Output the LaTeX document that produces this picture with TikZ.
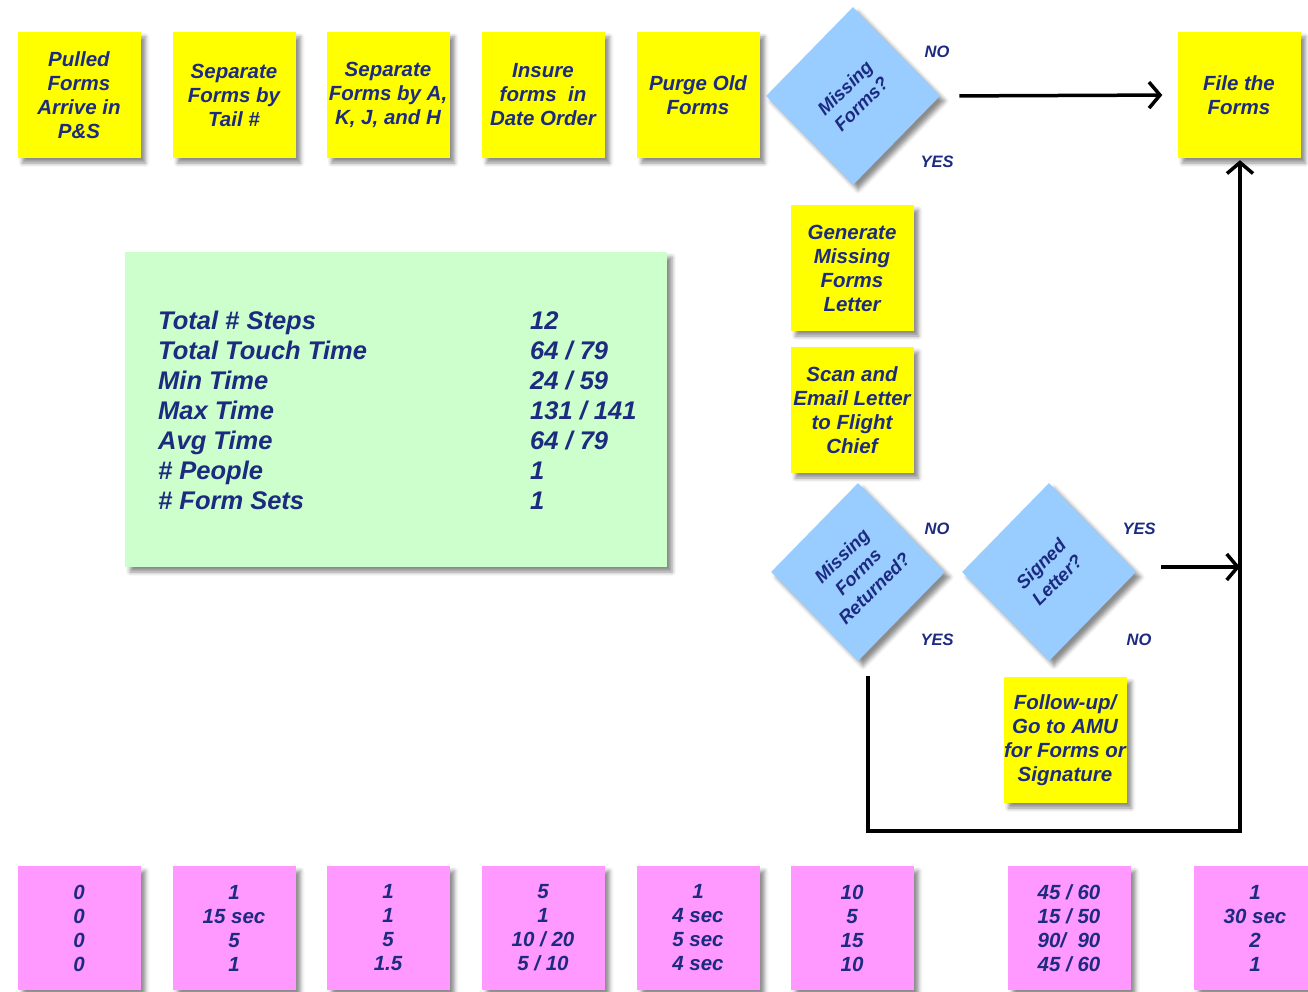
\documentclass[tikz,border=0pt]{standalone}
\usepackage{fontspec}
\setmainfont{Liberation Sans}
\usetikzlibrary{shapes.geometric,shadows.blur,arrows.meta}
\definecolor{navy}{RGB}{28,42,128}
\definecolor{yelbox}{RGB}{255,255,0}
\definecolor{diablue}{RGB}{153,204,255}
\definecolor{greenbox}{RGB}{204,255,204}
\definecolor{pinkbox}{RGB}{255,153,255}
\begin{document}
\begin{tikzpicture}[x=1pt,y=-1pt,
  shadowed/.style={blur shadow={shadow xshift=5pt, shadow yshift=-5pt, shadow blur radius=4pt, shadow opacity=45}},
  stepbox/.style={fill=yelbox, minimum width=123pt, minimum height=126pt, inner sep=0pt, align=center, text=navy,
     font=\fontsize{20.5}{24}\selectfont\bfseries\itshape, shadowed},
  timebox/.style={fill=pinkbox, minimum width=123pt, minimum height=124pt, inner sep=0pt, align=center, text=navy,
     font=\fontsize{20.5}{24}\selectfont\bfseries\itshape, shadowed},
  dia/.style={diamond, fill=diablue, minimum width=174pt, minimum height=178pt, inner sep=0pt, shadowed},
  diatext/.style={rotate=45, align=center, text=navy, inner sep=0pt, font=\fontsize{18.5}{23}\selectfont\bfseries\itshape},
  lbl/.style={text=navy, inner sep=0pt, font=\fontsize{16.5}{20}\selectfont\bfseries\itshape},
  flow/.style={line width=3.5pt, black, line cap=rect},
  arr/.style={flow, -{Straight Barb[length=11pt,width=26pt,line width=3.5pt]}}
]
\useasboundingbox (0,0) rectangle (1308,992);

% top row
\node[stepbox] (s1) at (79,95) {Pulled\\Forms\\Arrive in\\P\&S};
\node[stepbox] (s2) at (234,95) {Separate\\Forms by\\Tail \#};
\node[stepbox] (s3) at (388,95) {Separate\\Forms by A,\\K, J, and H};
\node[stepbox] (s4) at (543,95) {Insure\\forms\ \ in\\Date Order};
\node[stepbox] (s5) at (698,95) {Purge Old\\Forms};
\node[dia] (d1) at (853,96) {};
\node[diatext] at (d1) {Missing\\Forms?};
\node[stepbox] (file) at (1239,95) {File the\\Forms};
\node[lbl] (no1) at (937,52) {NO};
\node[lbl] (yes1) at (937,162) {YES};

% middle column
\node[stepbox] (gen) at (852,268) {Generate\\Missing\\Forms\\Letter};
\node[stepbox] (scan) at (852,410) {Scan and\\Email Letter\\to Flight\\Chief};
\node[dia] (d3) at (858,572) {};
\node[diatext] at (d3) {Missing\\Forms\\Returned?};
\node[dia] (d4) at (1049,572) {};
\node[diatext] at (d4) {Signed\\Letter?};
\node[lbl] (no3) at (937,529) {NO};
\node[lbl] (yes3) at (937,640) {YES};
\node[lbl] (yes4) at (1139,529) {YES};
\node[lbl] (no4) at (1139,640) {NO};
\node[stepbox] (follow) at (1065,740) {Follow-up/\\Go to AMU\\for Forms or\\Signature};

% connectors
\draw[arr, shorten <=21pt, shorten >=15pt] (d1.east) -- (file.west);
\coordinate (corner) at (1240,831);
\draw[arr, shorten >=2pt] ([xshift=10pt,yshift=-17pt]d3.south) |- (corner) -- (file.south -| corner);
\draw[arr, shorten <=27pt] ([yshift=5pt]d4.east) -- ([yshift=5pt]d4.east -| corner);

% statistics box
\node[fill=greenbox, minimum width=542pt, minimum height=315pt, inner sep=0pt, shadowed] (stats) at (396,409.5) {};
\node[anchor=west, inner sep=0pt, text=navy, font=\fontsize{25.5}{30}\selectfont\bfseries\itshape] (statstext) at (158,413)
 {\begin{tabular}{@{}p{372pt}@{}l@{}}
 Total \# Steps & 12\\
 Total Touch Time & 64 / 79\\
 Min Time & 24 / 59\\
 Max Time & 131 / 141\\
 Avg Time & 64 / 79\\
 \# People & 1\\
 \# Form Sets & 1
 \end{tabular}};

% bottom time boxes
\node[timebox] (t1) at (79,928) {0\\0\\0\\0};
\node[timebox] (t2) at (234,928) {1\\15 sec\\5\\1};
\node[timebox] (t3) at (388,928) {1\\1\\5\\1.5};
\node[timebox] (t4) at (543,928) {5\\1\\10 / 20\\5 / 10};
\node[timebox] (t5) at (698,928) {1\\4 sec\\5 sec\\4 sec};
\node[timebox] (t6) at (852,928) {10\\5\\15\\10};
\node[timebox] (t7) at (1069,928) {45 / 60\\15 / 50\\90/\ \ 90\\45 / 60};
\node[timebox] (t8) at (1255,928) {1\\30 sec\\2\\1};
\end{tikzpicture}
\end{document}
